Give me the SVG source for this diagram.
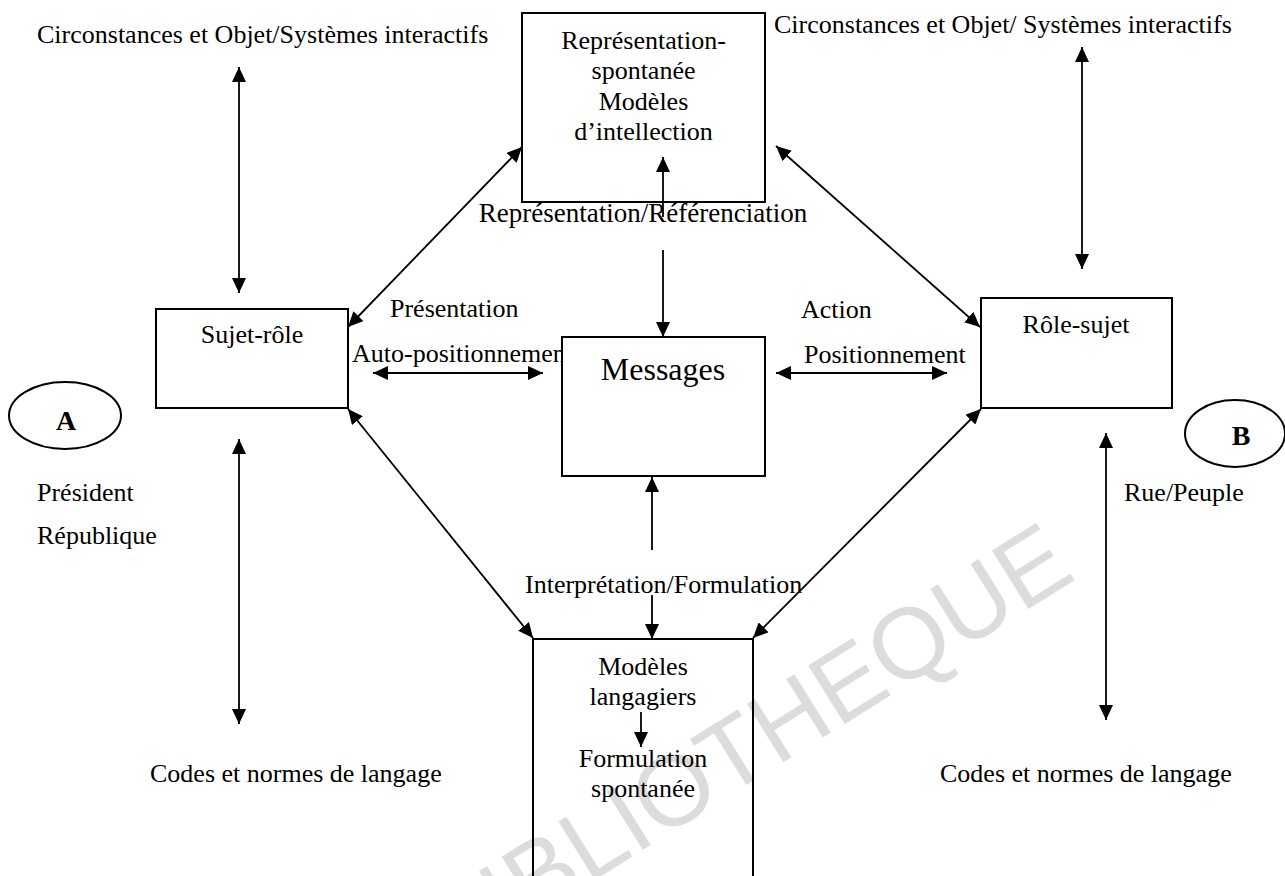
<svg xmlns="http://www.w3.org/2000/svg" width="1285" height="876" viewBox="0 0 1285 876">
  <style>
    text { font-family: "Liberation Serif", "Times New Roman", serif; font-size: 26px; fill: #000; }
    .c { text-anchor: middle; }
    .big { font-size: 32px; }
    .bold { font-weight: bold; font-size: 28px; }
    .box { fill: none; stroke: #000; stroke-width: 2; }
    .solid { fill: #fff; stroke: #000; stroke-width: 2; }
    .link { fill: none; stroke: #000; stroke-width: 1.8; }
    .one { marker-end: url(#head); }
    .two { marker-start: url(#head); marker-end: url(#head); }
    .mark { font-family: "Liberation Sans", Arial, sans-serif; font-size: 100px; fill: #dcdcdc; }
  </style>
  <defs>
    <marker id="head" markerUnits="userSpaceOnUse" markerWidth="15" markerHeight="14" refX="15" refY="7" orient="auto-start-reverse">
      <path d="M0,0 L15,7 L0,14 z" fill="#000"/>
    </marker>
  </defs>

  <rect width="1285" height="876" fill="#fff"/>

  <!-- background stamp -->
  <text class="mark" text-anchor="end" transform="translate(1078,578) rotate(-32)">BIBLIOTHEQUE</text>

  <!-- free labels -->
  <g id="labels">
    <text x="37" y="43">Circonstances et Objet/Systèmes interactifs</text>
    <text x="774" y="33">Circonstances et Objet/ Systèmes interactifs</text>
    <text class="c" x="643" y="222" style="font-size:27px">Représentation/Référenciation</text>
    <text x="390" y="317">Présentation</text>
    <text x="352" y="362">Auto-positionnement</text>
    <text x="801" y="318">Action</text>
    <text x="804" y="363">Positionnement</text>
    <text x="37" y="501">Président</text>
    <text x="37" y="544">République</text>
    <text x="1124" y="501">Rue/Peuple</text>
    <text x="525" y="593">Interprétation/Formulation</text>
    <text x="150" y="782">Codes et normes de langage</text>
    <text x="940" y="782">Codes et normes de langage</text>
  </g>

  <g id="node-representation">
    <rect class="box" x="522" y="13" width="243" height="189"/>
    <text class="c" x="643.5" y="49">Représentation-</text>
    <text class="c" x="643.5" y="79">spontanée</text>
    <text class="c" x="643.5" y="110">Modèles</text>
    <text class="c" x="643.5" y="140">d’intellection</text>
  </g>

  <g id="node-sujet-role">
    <rect class="box" x="156" y="309" width="192" height="99"/>
    <text class="c" x="252" y="343">Sujet-rôle</text>
  </g>

  <g id="node-messages">
    <rect class="solid" x="562" y="337" width="203" height="139"/>
    <text class="c big" x="663" y="380">Messages</text>
  </g>

  <g id="node-role-sujet">
    <rect class="box" x="981" y="298" width="191" height="110"/>
    <text class="c" x="1076" y="333">Rôle-sujet</text>
  </g>

  <g id="node-langagiers">
    <path class="box" d="M533,880 V639 H753 V880"/>
    <text class="c" x="643" y="675">Modèles</text>
    <text class="c" x="643" y="705">langagiers</text>
    <text class="c" x="643" y="767">Formulation</text>
    <text class="c" x="643" y="797">spontanée</text>
  </g>

  <g id="node-a">
    <ellipse class="box" cx="65" cy="415.5" rx="56" ry="33.5"/>
    <text class="c bold" x="66" y="430">A</text>
  </g>

  <g id="node-b">
    <ellipse class="box" cx="1235" cy="433.5" rx="50" ry="33.5"/>
    <text class="c bold" x="1241" y="445">B</text>
  </g>

  <g id="connectors">
    <!-- vertical context links -->
    <line class="link two" x1="239" y1="67" x2="239" y2="293"/>
    <line class="link two" x1="239" y1="439" x2="239" y2="724"/>
    <line class="link two" x1="1082" y1="47" x2="1082" y2="269"/>
    <line class="link two" x1="1106" y1="433" x2="1106" y2="720"/>
    <!-- diagonals around the messages -->
    <line class="link two" x1="348" y1="327" x2="522" y2="147"/>
    <line class="link two" x1="776" y1="146" x2="980" y2="327"/>
    <line class="link two" x1="348" y1="409" x2="533" y2="638"/>
    <line class="link two" x1="981" y1="409" x2="753" y2="638"/>
    <!-- horizontal exchanges -->
    <line class="link two" x1="373" y1="373" x2="543" y2="373"/>
    <line class="link two" x1="776" y1="373" x2="947" y2="373"/>
    <!-- single arrows -->
    <line class="link one" x1="663" y1="250" x2="663" y2="337"/>
    <line class="link one" x1="663" y1="217" x2="663" y2="157"/>
    <line class="link one" x1="652" y1="550" x2="652" y2="477"/>
    <line class="link one" x1="652" y1="595" x2="652" y2="639"/>
    <line class="link one" x1="641" y1="712" x2="641" y2="747"/>
  </g>
</svg>
